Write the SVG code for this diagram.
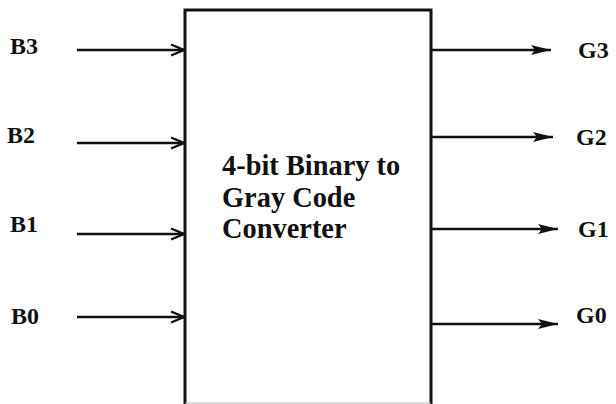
<svg xmlns="http://www.w3.org/2000/svg" width="616" height="404" viewBox="0 0 616 404">
<style>
  .lbl { font-family: 'Liberation Serif', 'Times New Roman', Times, serif; font-weight: 700; font-size: 24px; fill: #111; }
  .title { font-family: 'Liberation Serif', 'Times New Roman', Times, serif; font-weight: 700; font-size: 28.4px; fill: #111; }
  .wire { stroke: #111; stroke-width: 2.6; fill: none; }
  .box { stroke: #111; stroke-width: 3; fill: #fff; }
</style>
<defs>
  <marker id="openArrow" markerUnits="userSpaceOnUse" markerWidth="16" markerHeight="16" refX="14" refY="8" orient="auto" viewBox="0 0 16 16">
    <path d="M1,2.5 L14,8 L1,13.5" fill="none" stroke="#111" stroke-width="2.4"/>
  </marker>
  <marker id="solidArrow" markerUnits="userSpaceOnUse" markerWidth="22" markerHeight="14" refX="21" refY="7" orient="auto" viewBox="0 0 22 14">
    <path d="M1,2 L21,7 L1,12 L5,7 Z" fill="#111"/>
  </marker>
</defs>
<rect width="616" height="404" fill="#fff"/>
<g id="converter">
  <path class="box" d="M185,406 V10 H431 V406"/>
  <line x1="185" y1="403" x2="431" y2="403" stroke="#bbb" stroke-width="1"/>
  <text class="title" x="222" y="175">4-bit Binary to</text>
  <text class="title" x="222" y="207">Gray Code</text>
  <text class="title" x="222" y="238">Converter</text>
</g>
<g id="in-B3"><text class="lbl" x="10" y="54">B3</text></g>
<g id="in-B2"><text class="lbl" x="7" y="143">B2</text></g>
<g id="in-B1"><text class="lbl" x="10" y="232">B1</text></g>
<g id="in-B0"><text class="lbl" x="11" y="324">B0</text></g>
<g id="out-G3"><text class="lbl" x="578" y="58">G3</text></g>
<g id="out-G2"><text class="lbl" x="576" y="145">G2</text></g>
<g id="out-G1"><text class="lbl" x="578" y="237">G1</text></g>
<g id="out-G0"><text class="lbl" x="576" y="323">G0</text></g>
<g id="connectors">
  <line class="wire" x1="77" y1="50" x2="184" y2="50" marker-end="url(#openArrow)"/>
  <line class="wire" x1="77" y1="143" x2="184" y2="143" marker-end="url(#openArrow)"/>
  <line class="wire" x1="77" y1="234" x2="184" y2="234" marker-end="url(#openArrow)"/>
  <line class="wire" x1="77" y1="317" x2="184" y2="317" marker-end="url(#openArrow)"/>
  <line class="wire" x1="431" y1="50" x2="551" y2="50" marker-end="url(#solidArrow)"/>
  <line class="wire" x1="431" y1="137" x2="553" y2="137" marker-end="url(#solidArrow)"/>
  <line class="wire" x1="431" y1="229" x2="558" y2="229" marker-end="url(#solidArrow)"/>
  <line class="wire" x1="431" y1="324" x2="558" y2="324" marker-end="url(#solidArrow)"/>
</g>
</svg>
